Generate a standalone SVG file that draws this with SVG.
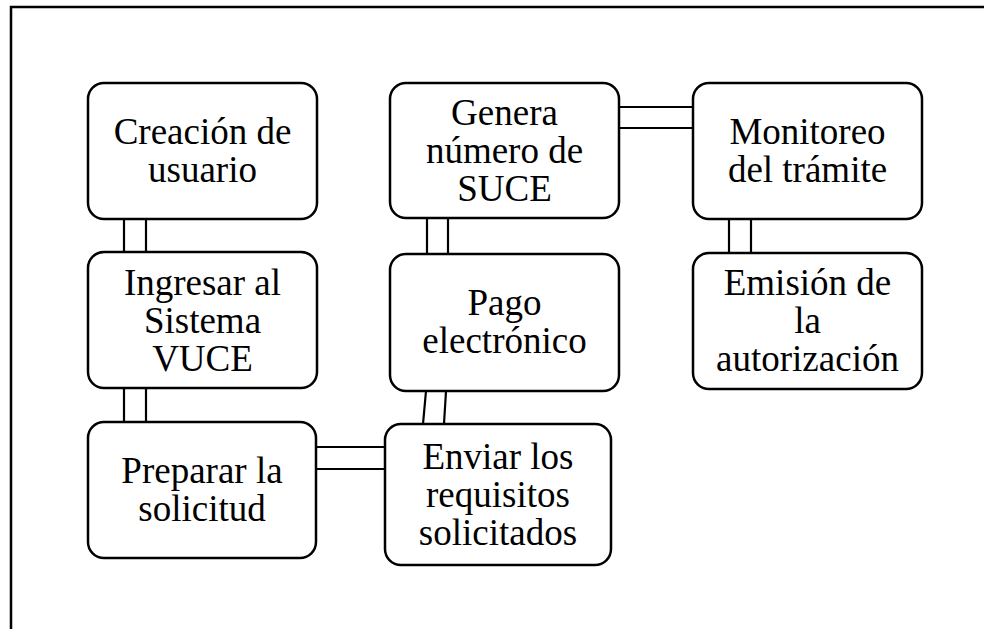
<svg xmlns="http://www.w3.org/2000/svg" width="984" height="629" viewBox="0 0 984 629">
<style>
.box{fill:#fff;stroke:#000;stroke-width:2.5}
.t{font-family:"Liberation Serif","Times New Roman",serif;font-size:37px;fill:#000;text-anchor:middle}
.c line{stroke:#000;stroke-width:2.2}
.frame{stroke:#000;stroke-width:2.5;fill:none}
</style>
<rect width="984" height="629" fill="#fff"/>
<path class="frame" d="M11,640 V7 H990"/>
<g class="c" id="connectors">
<line x1="124" y1="219" x2="124" y2="252"/><line x1="146" y1="219" x2="146" y2="252"/>
<line x1="124" y1="388" x2="124" y2="422"/><line x1="146" y1="388" x2="146" y2="422"/>
<line x1="316" y1="447" x2="385" y2="447"/><line x1="316" y1="469" x2="385" y2="469"/>
<line x1="426" y1="391" x2="423" y2="424"/><line x1="446" y1="391" x2="444" y2="424"/>
<line x1="427" y1="218" x2="427" y2="254"/><line x1="448" y1="218" x2="448" y2="254"/>
<line x1="619" y1="107" x2="693" y2="107"/><line x1="619" y1="128" x2="693" y2="128"/>
<line x1="729" y1="219" x2="729" y2="253"/><line x1="751" y1="219" x2="751" y2="253"/>
</g>
<g id="creacion"><rect class="box" x="88" y="83" width="229" height="136" rx="16"/>
<text class="t" x="202.5" y="144">Creación de</text><text class="t" x="202.5" y="182">usuario</text></g>
<g id="ingresar"><rect class="box" x="88" y="252" width="229" height="136" rx="16"/>
<text class="t" x="202.5" y="295">Ingresar al</text><text class="t" x="202.5" y="333">Sistema</text><text class="t" x="202.5" y="371">VUCE</text></g>
<g id="preparar"><rect class="box" x="88" y="422" width="228" height="136" rx="16"/>
<text class="t" x="202" y="483">Preparar la</text><text class="t" x="202" y="521">solicitud</text></g>
<g id="enviar"><rect class="box" x="385" y="424" width="226" height="141" rx="16"/>
<text class="t" x="498" y="469">Enviar los</text><text class="t" x="498" y="507">requisitos</text><text class="t" x="498" y="545">solicitados</text></g>
<g id="pago"><rect class="box" x="390" y="254" width="229" height="137" rx="16"/>
<text class="t" x="504.5" y="315">Pago</text><text class="t" x="504.5" y="353">electrónico</text></g>
<g id="genera"><rect class="box" x="390" y="83" width="229" height="135" rx="16"/>
<text class="t" x="504.5" y="125">Genera</text><text class="t" x="504.5" y="163">número de</text><text class="t" x="504.5" y="201">SUCE</text></g>
<g id="monitoreo"><rect class="box" x="693" y="83" width="229" height="136" rx="16"/>
<text class="t" x="807.5" y="144">Monitoreo</text><text class="t" x="807.5" y="182">del trámite</text></g>
<g id="emision"><rect class="box" x="693" y="253" width="229" height="136" rx="16"/>
<text class="t" x="807.5" y="295">Emisión de</text><text class="t" x="807.5" y="333">la</text><text class="t" x="807.5" y="371">autorización</text></g>
</svg>
